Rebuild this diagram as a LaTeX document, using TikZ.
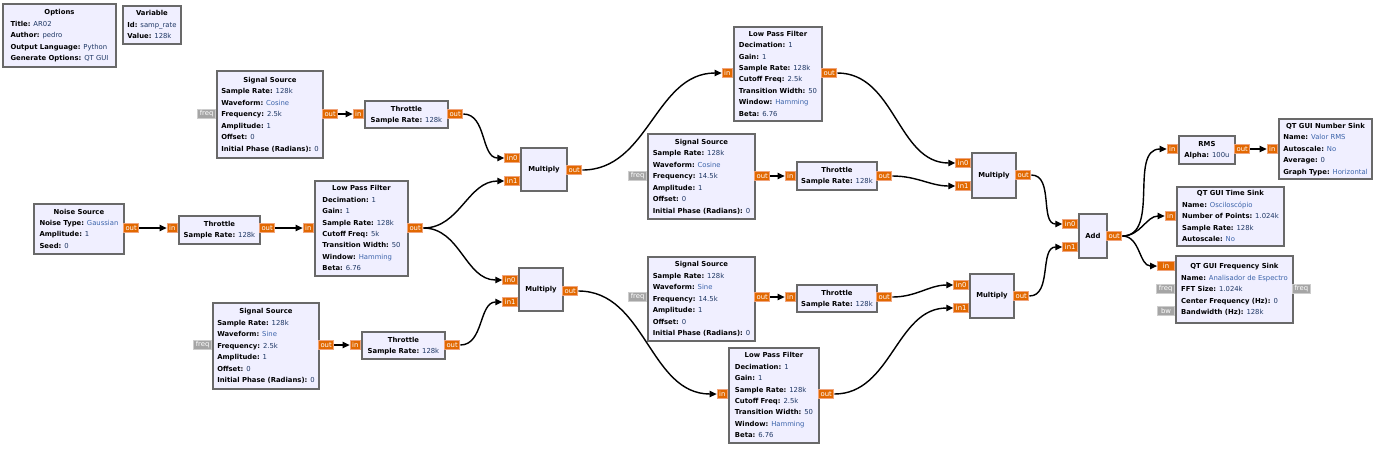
\documentclass[tikz,border=0pt]{standalone}
\usepackage{fontspec}
\setmainfont{DejaVu Sans}
\usepackage{xcolor}
\usetikzlibrary{arrows.meta,positioning}

\definecolor{blkfill}{RGB}{240,239,255}
\definecolor{blkline}{RGB}{105,105,105}
\definecolor{portfill}{RGB}{226,104,0}
\definecolor{portline}{RGB}{240,165,125}
\definecolor{gportfill}{RGB}{165,165,165}
\definecolor{gportline}{RGB}{205,205,205}
\definecolor{valnum}{RGB}{30,55,100}
\definecolor{valtxt}{RGB}{60,100,170}

\newcommand{\pn}[2]{\textbf{#1:} \textcolor{valnum}{#2}}
\newcommand{\ps}[2]{\textbf{#1:} \textcolor{valtxt}{#2}}
\newcommand{\ttl}[1]{\multicolumn{1}{@{}c@{}}{\textbf{#1}}}

\begin{document}
\begin{tikzpicture}[
    x=0.02cm, y=-0.02cm,
    font=\fontsize{3.9}{6.5}\selectfont,
    blk/.style={rectangle, draw=blkline, line width=1.1pt, fill=blkfill, inner sep=0pt, anchor=north west},
    port/.style={rectangle, draw=portline, line width=0.5pt, fill=portfill, text=white, inner xsep=1.2pt, inner ysep=0pt, minimum height=5.6pt},
    gport/.style={port, draw=gportline, fill=gportfill},
    wire/.style={line width=0.8pt, -{Triangle[length=4pt,width=3.6pt]}}
]
\useasboundingbox (0,0) rectangle (1378,451);

% variables
\node[blk, minimum width=2.26cm, minimum height=1.26cm] (opts) at (2,3) {\begin{tabular}{@{}l@{}}
  \ttl{Options}\\ \pn{Title}{AR02}\\ \pn{Author}{pedro}\\ \pn{Output Language}{Python}\\ \pn{Generate Options}{QT GUI}
\end{tabular}};
\node[blk, minimum width=1.16cm, minimum height=0.76cm] (var) at (122,5) {\begin{tabular}{@{}l@{}}
  \ttl{Variable}\\ \pn{Id}{samp\_rate}\\ \pn{Value}{128k}
\end{tabular}};

% left column
\node[blk, minimum width=2.12cm, minimum height=1.74cm] (src1) at (216,70) {\begin{tabular}{@{}l@{}}
  \ttl{Signal Source}\\ \pn{Sample Rate}{128k}\\ \ps{Waveform}{Cosine}\\ \pn{Frequency}{2.5k}\\ \pn{Amplitude}{1}\\ \pn{Offset}{0}\\ \pn{Initial Phase (Radians)}{0}
\end{tabular}};
\node[blk, minimum width=1.66cm, minimum height=0.54cm] (thr1) at (364,100) {\begin{tabular}{@{}l@{}}
  \ttl{Throttle}\\ \pn{Sample Rate}{128k}
\end{tabular}};
\node[blk, minimum width=1.8cm, minimum height=1.0cm] (noise) at (33,203) {\begin{tabular}{@{}l@{}}
  \ttl{Noise Source}\\ \ps{Noise Type}{Gaussian}\\ \pn{Amplitude}{1}\\ \pn{Seed}{0}
\end{tabular}};
\node[blk, minimum width=1.62cm, minimum height=0.56cm] (thr2) at (178,215) {\begin{tabular}{@{}l@{}}
  \ttl{Throttle}\\ \pn{Sample Rate}{128k}
\end{tabular}};
\node[blk, minimum width=1.86cm, minimum height=1.9cm] (lpf1) at (314,180) {\begin{tabular}{@{}l@{}}
  \ttl{Low Pass Filter}\\ \pn{Decimation}{1}\\ \pn{Gain}{1}\\ \pn{Sample Rate}{128k}\\ \pn{Cutoff Freq}{5k}\\ \pn{Transition Width}{50}\\ \ps{Window}{Hamming}\\ \pn{Beta}{6.76}
\end{tabular}};
\node[blk, minimum width=2.12cm, minimum height=1.72cm] (src3) at (212,302) {\begin{tabular}{@{}l@{}}
  \ttl{Signal Source}\\ \pn{Sample Rate}{128k}\\ \ps{Waveform}{Sine}\\ \pn{Frequency}{2.5k}\\ \pn{Amplitude}{1}\\ \pn{Offset}{0}\\ \pn{Initial Phase (Radians)}{0}
\end{tabular}};
\node[blk, minimum width=1.66cm, minimum height=0.54cm] (thr3) at (361,331) {\begin{tabular}{@{}l@{}}
  \ttl{Throttle}\\ \pn{Sample Rate}{128k}
\end{tabular}};
\node[blk, minimum width=0.92cm, minimum height=0.86cm] (mul1) at (520,147) {\textbf{Multiply}};
\node[blk, minimum width=0.88cm, minimum height=0.86cm] (mul2) at (518,267) {\textbf{Multiply}};

% middle column
\node[blk, minimum width=1.76cm, minimum height=1.88cm] (lpf2) at (733,26) {\begin{tabular}{@{}l@{}}
  \ttl{Low Pass Filter}\\ \pn{Decimation}{1}\\ \pn{Gain}{1}\\ \pn{Sample Rate}{128k}\\ \pn{Cutoff Freq}{2.5k}\\ \pn{Transition Width}{50}\\ \ps{Window}{Hamming}\\ \pn{Beta}{6.76}
\end{tabular}};
\node[blk, minimum width=2.14cm, minimum height=1.7cm] (src2) at (647,133) {\begin{tabular}{@{}l@{}}
  \ttl{Signal Source}\\ \pn{Sample Rate}{128k}\\ \ps{Waveform}{Cosine}\\ \pn{Frequency}{14.5k}\\ \pn{Amplitude}{1}\\ \pn{Offset}{0}\\ \pn{Initial Phase (Radians)}{0}
\end{tabular}};
\node[blk, minimum width=1.6cm, minimum height=0.56cm] (thr4) at (796,161) {\begin{tabular}{@{}l@{}}
  \ttl{Throttle}\\ \pn{Sample Rate}{128k}
\end{tabular}};
\node[blk, minimum width=2.14cm, minimum height=1.68cm] (src4) at (647,256) {\begin{tabular}{@{}l@{}}
  \ttl{Signal Source}\\ \pn{Sample Rate}{128k}\\ \ps{Waveform}{Sine}\\ \pn{Frequency}{14.5k}\\ \pn{Amplitude}{1}\\ \pn{Offset}{0}\\ \pn{Initial Phase (Radians)}{0}
\end{tabular}};
\node[blk, minimum width=1.6cm, minimum height=0.54cm] (thr5) at (796,284) {\begin{tabular}{@{}l@{}}
  \ttl{Throttle}\\ \pn{Sample Rate}{128k}
\end{tabular}};
\node[blk, minimum width=1.8cm, minimum height=1.9cm] (lpf3) at (728,347) {\begin{tabular}{@{}l@{}}
  \ttl{Low Pass Filter}\\ \pn{Decimation}{1}\\ \pn{Gain}{1}\\ \pn{Sample Rate}{128k}\\ \pn{Cutoff Freq}{2.5k}\\ \pn{Transition Width}{50}\\ \ps{Window}{Hamming}\\ \pn{Beta}{6.76}
\end{tabular}};

% right column
\node[blk, minimum width=0.88cm, minimum height=0.9cm] (mul3) at (971,152) {\textbf{Multiply}};
\node[blk, minimum width=0.88cm, minimum height=0.88cm] (mul4) at (969,273) {\textbf{Multiply}};
\node[blk, minimum width=0.56cm, minimum height=0.88cm] (add) at (1078,213) {\textbf{Add}};
\node[blk, minimum width=1.12cm, minimum height=0.56cm] (rms) at (1178,135) {\begin{tabular}{@{}l@{}}
  \ttl{RMS}\\ \pn{Alpha}{100u}
\end{tabular}};
\node[blk, minimum width=1.86cm, minimum height=1.2cm] (num) at (1278,118) {\begin{tabular}{@{}l@{}}
  \ttl{QT GUI Number Sink}\\ \ps{Name}{Valor RMS}\\ \ps{Autoscale}{No}\\ \pn{Average}{0}\\ \ps{Graph Type}{Horizontal}
\end{tabular}};
\node[blk, minimum width=2.14cm, minimum height=1.18cm] (time) at (1176,186) {\begin{tabular}{@{}l@{}}
  \ttl{QT GUI Time Sink}\\ \ps{Name}{Osciloscópio}\\ \pn{Number of Points}{1.024k}\\ \pn{Sample Rate}{128k}\\ \ps{Autoscale}{No}
\end{tabular}};
\node[blk, minimum width=2.34cm, minimum height=1.34cm] (freq) at (1175,255) {\begin{tabular}{@{}l@{}}
  \ttl{QT GUI Frequency Sink}\\ \ps{Name}{Analisador de Espectro}\\ \pn{FFT Size}{1.024k}\\ \pn{Center Frequency (Hz)}{0}\\ \pn{Bandwidth (Hz)}{128k}
\end{tabular}};

% ports
\node[gport, anchor=east] (src1f) at (216,114) {freq};
\node[port, anchor=west] (src1o) at (322,114) {out};
\node[port, anchor=east] (thr1i) at (364,114) {in};
\node[port, anchor=west] (thr1o) at (447,114) {out};
\node[port, anchor=west] (noiseo) at (123,228) {out};
\node[port, anchor=east] (thr2i) at (178,228) {in};
\node[port, anchor=west] (thr2o) at (259,228) {out};
\node[port, anchor=east] (lpf1i) at (314,228) {in};
\node[port, anchor=west] (lpf1o) at (407,228) {out};
\node[gport, anchor=east] (src3f) at (212,345) {freq};
\node[port, anchor=west] (src3o) at (318,345) {out};
\node[port, anchor=east] (thr3i) at (361,345) {in};
\node[port, anchor=west] (thr3o) at (444,345) {out};
\node[port, anchor=east] (mul1a) at (520,158) {in0};
\node[port, anchor=east] (mul1b) at (520,181) {in1};
\node[port, anchor=west] (mul1o) at (566,170) {out};
\node[port, anchor=east] (mul2a) at (518,280) {in0};
\node[port, anchor=east] (mul2b) at (518,302) {in1};
\node[port, anchor=west] (mul2o) at (562,291) {out};
\node[port, anchor=east] (lpf2i) at (733,73) {in};
\node[port, anchor=west] (lpf2o) at (821,73) {out};
\node[gport, anchor=east] (src2f) at (647,176) {freq};
\node[port, anchor=west] (src2o) at (754,176) {out};
\node[port, anchor=east] (thr4i) at (796,176) {in};
\node[port, anchor=west] (thr4o) at (876,176) {out};
\node[gport, anchor=east] (src4f) at (647,297) {freq};
\node[port, anchor=west] (src4o) at (754,297) {out};
\node[port, anchor=east] (thr5i) at (796,297) {in};
\node[port, anchor=west] (thr5o) at (876,297) {out};
\node[port, anchor=east] (lpf3i) at (728,394) {in};
\node[port, anchor=west] (lpf3o) at (818,394) {out};
\node[port, anchor=east] (mul3a) at (971,163) {in0};
\node[port, anchor=east] (mul3b) at (971,186) {in1};
\node[port, anchor=west] (mul3o) at (1015,175) {out};
\node[port, anchor=east] (mul4a) at (969,285) {in0};
\node[port, anchor=east] (mul4b) at (969,308) {in1};
\node[port, anchor=west] (mul4o) at (1013,296) {out};
\node[port, anchor=east] (adda) at (1078,224) {in0};
\node[port, anchor=east] (addb) at (1078,247) {in1};
\node[port, anchor=west] (addo) at (1106,236) {out};
\node[port, anchor=east] (rmsi) at (1178,149) {in};
\node[port, anchor=west] (rmso) at (1234,149) {out};
\node[port, anchor=east] (numi) at (1278,149) {in};
\node[port, anchor=east] (timei) at (1176,216) {in};
\node[port, anchor=east, minimum width=0.34cm] (freqi) at (1175,266) {in};
\node[gport, anchor=east] (freqf) at (1175,289) {freq};
\node[gport, anchor=east, minimum width=0.34cm] (freqbw) at (1175,311) {bw};
\node[gport, anchor=west] (freqfo) at (1292,289) {freq};

% connections
\draw[wire] (src1o) -- (thr1i);
\draw[wire] (thr1o) to[out=0, in=180] (mul1a);
\draw[wire] (noiseo) -- (thr2i);
\draw[wire] (thr2o) -- (lpf1i);
\draw[wire] (lpf1o) to[out=0, in=180] (mul1b);
\draw[wire] (lpf1o) to[out=0, in=180] (mul2a);
\draw[wire] (src3o) -- (thr3i);
\draw[wire] (thr3o) to[out=0, in=180] (mul2b);
\draw[wire] (mul1o) to[out=0, in=180] (lpf2i);
\draw[wire] (mul2o) to[out=0, in=180] (lpf3i);
\draw[wire] (src2o) -- (thr4i);
\draw[wire] (src4o) -- (thr5i);
\draw[wire] (lpf2o) to[out=0, in=180] (mul3a);
\draw[wire] (thr4o) to[out=0, in=180] (mul3b);
\draw[wire] (thr5o) to[out=0, in=180] (mul4a);
\draw[wire] (lpf3o) to[out=0, in=180] (mul4b);
\draw[wire] (mul3o) to[out=0, in=180] (adda);
\draw[wire] (mul4o) to[out=0, in=180] (addb);
\draw[wire] (addo) to[out=0, in=180] (rmsi);
\draw[wire] (addo) to[out=0, in=180] (timei);
\draw[wire] (addo) to[out=0, in=180] (freqi);
\draw[wire] (rmso) -- (numi);

\end{tikzpicture}
\end{document}
